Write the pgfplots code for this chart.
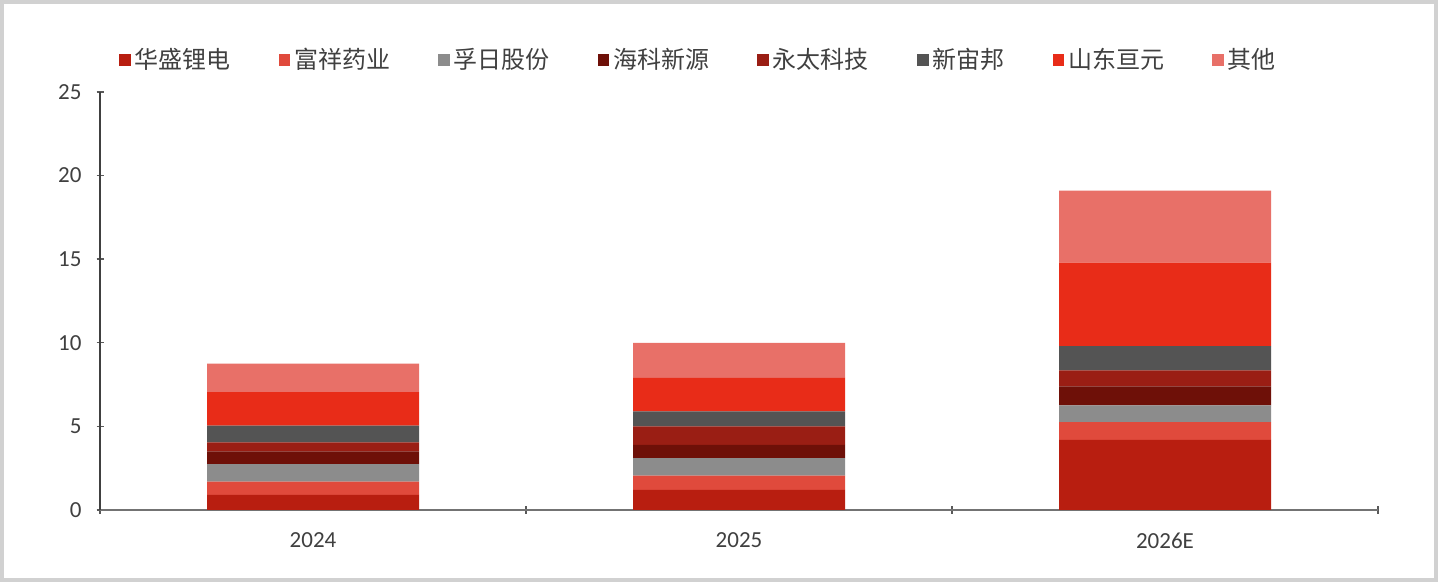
\documentclass[border=0pt]{standalone}
\usepackage{fontspec}
\setmainfont{Carlito}
\newfontfamily\cjk{Noto Sans CJK SC}
\usepackage{pgfplots}
\pgfplotsset{compat=1.18}

\definecolor{cHS}{HTML}{B81E10}
\definecolor{cFX}{HTML}{E04A3C}
\definecolor{cFR}{HTML}{8C8C8C}
\definecolor{cHK}{HTML}{6E1008}
\definecolor{cYT}{HTML}{9A1E14}
\definecolor{cXZ}{HTML}{545454}
\definecolor{cSD}{HTML}{E82C18}
\definecolor{cQT}{HTML}{E87068}
\definecolor{txt}{HTML}{404040}

\begin{document}
\begin{tikzpicture}
  \useasboundingbox (0,0) rectangle (719pt,291pt);
  \fill[white] (0,0) rectangle (719pt,291pt);
  \draw[line width=2pt, black!18] (1pt,1pt) rectangle (718pt,290pt);
  \begin{axis}[
    at={(50pt,36pt)}, anchor=south west,
    scale only axis,
    width=639pt, height=209pt,
    ybar stacked,
    bar width=106pt,
    xmin=-0.5, xmax=2.5,
    ymin=0, ymax=25,
    ytick={0,5,10,15,20,25},
    xtick={0,1,2},
    xticklabels={2024,2025,2026E},
    minor xtick={-0.5,0.5,1.5,2.5},
    major x tick style={draw=none},
    minor tick length=4pt,
    major tick length=3.5pt,
    tick align=outside,
    axis x line=bottom, axis y line=left,
    axis line style={-, black!55, line width=0.8pt},
    y axis line style={black!75},
    tick style={black!65, line width=0.7pt},
    /pgf/number format/assume math mode=true,
    ticklabel style={font=\fontsize{11.5}{13}\selectfont, text=txt},
    xticklabel style={yshift=-6pt},
    yticklabel style={xshift=-4pt},
    legend columns=-1,
    legend style={at={(0.469,1.077)}, anchor=center, draw=none, fill=none,
      font=\cjk\fontsize{12}{14}\selectfont, text=txt,
      /tikz/every even column/.append style={column sep=22pt},
      inner sep=0pt},
    legend image code/.code={\fill[#1,draw=none] (0pt,-3pt) rectangle (5.8pt,3pt);},
    every axis plot/.append style={draw=none},
  ]
    \addplot[fill=cHS] coordinates {(0,0.9) (1,1.2) (2,4.2)};
    \addplot[fill=cFX] coordinates {(0,0.8) (1,0.85) (2,1.05)};
    \addplot[fill=cFR] coordinates {(0,1.05) (1,1.05) (2,1.0)};
    \addplot[fill=cHK] coordinates {(0,0.75) (1,0.8) (2,1.15)};
    \addplot[fill=cYT] coordinates {(0,0.55) (1,1.1) (2,0.95)};
    \addplot[fill=cXZ] coordinates {(0,1.0) (1,0.9) (2,1.45)};
    \addplot[fill=cSD] coordinates {(0,2.0) (1,2.0) (2,5.0)};
    \addplot[fill=cQT] coordinates {(0,1.7) (1,2.1) (2,4.3)};
    \legend{华盛锂电,富祥药业,孚日股份,海科新源,永太科技,新宙邦,山东亘元,其他}
  \end{axis}
\end{tikzpicture}
\end{document}
